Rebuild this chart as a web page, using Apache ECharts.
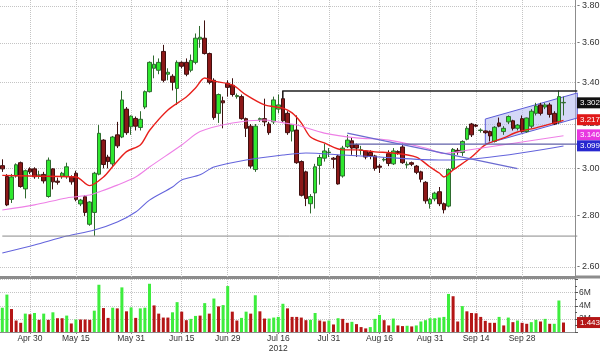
<!DOCTYPE html>
<html>
<head>
<meta charset="utf-8">
<script src="https://cdn.jsdelivr.net/npm/echarts@6.0.0/dist/echarts.min.js"></script>
<style>
html,body{margin:0;padding:0;background:#fff}
#main{width:600px;height:354px}
</style>
</head>
<body>
<div id="main"></div>
<script>
// trading days (two empty slots at the end, like the terminal leaves)
var dates = ['Apr 20','Apr 23','Apr 24','Apr 25','Apr 26','Apr 27','Apr 30',
'May 2','May 3','May 4','May 7','May 8','May 9','May 10','May 11','May 14','May 15','May 16','May 17','May 18','May 21','May 22','May 23','May 24','May 25','May 28','May 29','May 30','May 31',
'Jun 1','Jun 4','Jun 5','Jun 6','Jun 7','Jun 8','Jun 11','Jun 12','Jun 13','Jun 14','Jun 15','Jun 18','Jun 19','Jun 20','Jun 21','Jun 22','Jun 25','Jun 26','Jun 27','Jun 28','Jun 29',
'Jul 2','Jul 3','Jul 4','Jul 5','Jul 6','Jul 9','Jul 10','Jul 11','Jul 12','Jul 13','Jul 16','Jul 17','Jul 18','Jul 19','Jul 20','Jul 23','Jul 24','Jul 25','Jul 26','Jul 27','Jul 30','Jul 31',
'Aug 1','Aug 2','Aug 3','Aug 6','Aug 7','Aug 8','Aug 9','Aug 10','Aug 13','Aug 14','Aug 16','Aug 17','Aug 20','Aug 21','Aug 22','Aug 23','Aug 24','Aug 27','Aug 28','Aug 29','Aug 30','Aug 31',
'Sep 3','Sep 4','Sep 5','Sep 6','Sep 7','Sep 10','Sep 11','Sep 12','Sep 13','Sep 14','Sep 17','Sep 18','Sep 19','Sep 20','Sep 21','Sep 24','Sep 25','Sep 26','Sep 27','Sep 28',
'Oct 1','Oct 2','Oct 3','Oct 4','Oct 5','Oct 8','Oct 9','Oct 10','Oct 11','Oct 12','Oct 15'];

// open, close, low, high
var candles = [
[3.012,2.998,2.985,3.04],[2.965,2.845,2.84,2.975],[2.868,2.963,2.853,2.976],[2.967,3.016,2.96,3.022],[3.025,2.922,2.917,3.03],
[2.912,2.99,2.872,2.995],[2.998,2.985,2.975,3.005],[2.998,2.964,2.955,3.005],[2.97,2.972,2.955,2.99],[2.974,2.946,2.935,2.985],
[2.88,3.036,2.875,3.048],[2.998,2.942,2.91,3.0],[2.945,2.94,2.93,2.96],[2.964,2.979,2.955,2.985],[2.964,3.007,2.955,3.025],
[2.964,2.942,2.93,2.97],[2.979,2.868,2.86,2.99],[2.849,2.865,2.84,2.87],[2.879,2.814,2.80,2.885],[2.766,2.857,2.76,2.86],
[2.814,2.979,2.72,2.985],[2.975,3.157,2.97,3.195],[3.126,3.017,3.0,3.13],[3.05,3.03,3.0,3.06],[3.02,3.14,3.01,3.145],
[3.15,3.10,3.09,3.21],[3.14,3.314,3.135,3.358],[3.27,3.16,3.15,3.28],[3.187,3.237,3.15,3.24],[3.226,3.19,3.17,3.235],
[3.184,3.222,3.17,3.26],[3.28,3.354,3.27,3.36],[3.354,3.50,3.35,3.505],[3.47,3.49,3.42,3.535],[3.46,3.50,3.44,3.52],
[3.556,3.41,3.40,3.59],[3.44,3.45,3.41,3.47],[3.43,3.40,3.36,3.44],[3.37,3.50,3.29,3.51],[3.50,3.48,3.47,3.505],
[3.50,3.44,3.43,3.52],[3.46,3.51,3.45,3.54],[3.50,3.625,3.49,3.65],[3.62,3.63,3.575,3.69],[3.625,3.545,3.54,3.72],
[3.545,3.40,3.39,3.55],[3.41,3.23,3.22,3.42],[3.25,3.34,3.205,3.345],[3.31,3.30,3.18,3.33],[3.395,3.375,3.33,3.41],
[3.385,3.34,3.33,3.42],[3.33,3.335,3.32,3.345],[3.33,3.225,3.22,3.34],[3.225,3.18,3.14,3.23],[3.19,3.01,3.0,3.20],
[2.995,3.19,2.985,3.20],[3.22,3.225,3.21,3.23],[3.225,3.21,3.19,3.32],[3.20,3.16,3.15,3.21],[3.21,3.314,3.20,3.33],
[3.27,3.29,3.25,3.34],[3.32,3.215,3.21,3.357],[3.25,3.16,3.15,3.26],[3.167,3.197,3.12,3.20],[3.172,3.025,3.02,3.24],
[3.03,2.885,2.88,3.035],[2.985,2.872,2.84,2.99],[2.85,2.88,2.81,2.89],[2.895,3.007,2.83,3.02],[3.013,3.048,2.93,3.06],
[3.045,3.077,3.03,3.11],[3.07,3.072,3.05,3.09],[3.045,3.04,3.0,3.05],[3.055,2.933,2.93,3.06],[2.967,3.09,2.96,3.10],
[3.096,3.126,3.09,3.15],[3.123,3.09,3.06,3.14],[3.105,3.09,3.05,3.11],[3.08,3.082,3.06,3.10],[3.077,3.05,3.04,3.08],
[3.07,3.055,3.04,3.08],[3.055,3.0,2.99,3.06],[3.01,3.005,2.98,3.02],[3.037,3.04,3.03,3.05],[3.065,3.022,3.01,3.08],
[3.02,3.077,3.015,3.09],[3.075,3.07,3.06,3.08],[3.095,3.025,3.02,3.11],[3.015,3.018,3.0,3.03],[3.025,3.018,3.01,3.03],
[3.01,2.983,2.975,3.015],[2.985,2.953,2.94,2.99],[2.94,2.862,2.85,2.945],[2.85,2.868,2.83,2.875],[2.87,2.894,2.86,2.90],
[2.90,2.85,2.84,2.92],[2.85,2.825,2.81,2.855],[2.84,2.995,2.835,3.0],[3.0,3.084,2.99,3.09],[3.08,3.072,3.06,3.09],
[3.07,3.12,3.055,3.125],[3.13,3.18,3.125,3.19],[3.20,3.15,3.14,3.205],[3.195,3.19,3.185,3.20],[3.17,3.172,3.16,3.18],
[3.168,3.16,3.155,3.17],[3.165,3.145,3.12,3.17],[3.12,3.185,3.115,3.19],[3.205,3.19,3.185,3.23],[3.165,3.18,3.15,3.19],
[3.21,3.235,3.20,3.24],[3.215,3.18,3.17,3.22],[3.18,3.195,3.17,3.20],[3.225,3.165,3.16,3.24],[3.165,3.228,3.16,3.23],
[3.19,3.26,3.18,3.27],[3.25,3.285,3.24,3.30],[3.29,3.25,3.24,3.30],[3.28,3.29,3.27,3.30],[3.29,3.245,3.23,3.30],
[3.25,3.20,3.195,3.26],[3.21,3.33,3.20,3.36],[3.30,3.302,3.24,3.33]
];

// volume, millions
var volumes = [3.7,5.7,3.5,1.75,1.4,2.8,2.7,2.9,1.85,2.8,1.85,3.0,2.1,2.1,2.5,1.3,1.9,1.9,1.9,1.85,
3.25,7.2,3.65,2.15,3.7,3.6,6.8,3.15,3.75,2.15,3.6,3.7,7.35,4.05,2.8,2.2,2.2,3.0,4.55,3.1,
1.8,2.0,2.45,2.5,4.4,2.8,5.1,3.9,4.1,7.0,3.1,1.75,2.15,3.1,2.8,5.6,3.15,2.05,2.05,2.2,
2.3,4.3,3.6,2.3,2.3,2.2,1.8,1.85,2.9,1.75,1.6,1.75,1.15,2.1,2.0,1.4,1.55,1.2,0.75,0.55,
0.75,2.0,2.6,1.8,1.0,2.05,1.0,0.9,0.95,0.85,1.0,1.6,1.8,2.1,2.1,2.2,2.3,5.8,5.45,1.6,
3.95,3.15,2.9,2.85,2.3,1.7,1.4,1.4,2.3,1.0,2.2,1.5,1.75,1.4,1.25,1.5,1.85,1.6,2.0,1.25,
1.25,4.8,1.443];
// 1 = up day (green bar), 0 = down day (red bar)
var volUp = [1,1,0,0,0,1,0,1,0,1,0,1,0,0,1,0,1,0,0,0,
1,1,0,0,1,0,1,0,1,0,1,1,1,0,0,0,0,1,1,0,
0,1,1,0,1,0,1,0,1,1,0,0,1,1,0,1,0,0,1,1,
1,1,0,0,0,0,0,1,1,0,0,1,0,1,0,0,1,0,0,0,
1,1,1,0,0,1,0,0,1,0,1,1,1,1,1,1,1,1,0,0,
1,0,0,0,0,0,0,0,1,0,1,0,1,0,0,1,1,0,1,0,
1,1,0];

// moving averages: [day index, price]
var maRed = [[0,2.97],[6,2.967],[16,2.963],[19,2.926],[22,2.963],[24,3.008],[27,3.074],[30,3.104],[32,3.17],[36,3.266],
[40,3.328],[42,3.372],[44,3.421],[46,3.406],[50,3.387],[53,3.338],[57,3.29],[61,3.275],[63,3.252],[65,3.205],
[67,3.14],[70,3.113],[74,3.082],[77,3.082],[81,3.073],[85,3.068],[90,3.05],[93,3.006],[95,2.98],[96,2.963],
[98,2.993],[102,3.05],[105,3.104],[109,3.136],[112,3.163],[116,3.182],[120,3.205],[122,3.217]];
var maPink = [[0,2.824],[7,2.845],[14,2.874],[19,2.886],[21,2.899],[25,2.928],[29,2.963],[32,3.006],[39,3.104],[43,3.165],
[50,3.205],[57,3.219],[60,3.209],[64,3.195],[70,3.158],[77,3.136],[84,3.126],[92,3.09],[96,3.066],[101,3.08],[122,3.146]];
var maBlue = [[0,2.653],[7,2.684],[14,2.719],[20,2.743],[25,2.775],[29,2.816],[32,2.865],[37,2.92],[39,2.95],[43,2.972],
[46,3.006],[53,3.037],[61,3.059],[66,3.068],[74,3.059],[82,3.05],[95,3.037],[98,3.037],[122,3.099]];

// drawn studies: [day index, price]
var resistLine = [[61.2,3.32],[61.2,3.357],[124.5,3.357]];
var lowLine = [[-0.5,2.719],[124.5,2.719]];
var supportLine = [[75.2,3.108],[124.5,3.108]];
var downLine = [[75.2,3.158],[112.1,2.999]];
var channel = [[105.4,3.2233],[124.5,3.3477],[124.5,3.228],[105.4,3.1084]];

var priceTicks = [2.6,2.8,3.0,3.2,3.4,3.6,3.8];
var labelDates = ['Apr 30','May 15','May 31','Jun 15','Jun 29','Jul 16','Jul 31','Aug 16','Aug 31','Sep 14','Sep 28'];
var lastPrice = 3.302, lastRed = 3.2173, lastPink = 3.1465, lastBlue = 3.0994, lastVol = 1.443;

var GRID = '#c4c4c4';
var AX = '#8c8c8c';
var FONT = 'Liberation Sans, Arial, sans-serif';
var CLEAR = {color: 'rgba(0,0,0,0)', width: 1, type: 'solid'};

function tag(bg, fg, text) {
    return {show: true, position: 'end', distance: 2, backgroundColor: bg, color: fg,
        padding: [2, 2, 1, 3], fontSize: 8, fontFamily: FONT,
        formatter: function () { return text; }};
}

var vGrid = labelDates.map(function (d) { return {xAxis: d, label: {show: false}}; });
var hGrid = priceTicks.map(function (v) { return {yAxis: v}; });

var chart = echarts.init(document.getElementById('main'), null, {renderer: 'canvas'});

var option = {
    animation: false,
    backgroundColor: '#fff',
    textStyle: {fontFamily: FONT},
    grid: [
        {left: 0, top: 0, width: 575, height: 277},
        {left: 0, top: 279.5, width: 575, height: 57}
    ],
    // panel separator continues under the price scale
    graphic: [{type: 'rect', left: 575, top: 275.5, shape: {width: 25, height: 3}, style: {fill: AX}, silent: true}],
    xAxis: [
        {type: 'category', gridIndex: 0, data: dates, boundaryGap: true,
         axisLine: {show: true, lineStyle: {color: AX, width: 3}},
         axisTick: {show: false}, axisLabel: {show: false}, splitLine: {show: false}},
        {type: 'category', gridIndex: 1, data: dates, boundaryGap: true,
         axisLine: {show: true, lineStyle: {color: AX}},
         axisTick: {show: true, alignWithLabel: true, length: 2, lineStyle: {color: AX},
             interval: function (i, v) { return labelDates.indexOf(v) >= 0; }},
         axisLabel: {color: '#333', fontSize: 8.5, margin: 2, lineHeight: 10,
             interval: function (i, v) { return labelDates.indexOf(v) >= 0; },
             formatter: function (v) { return v === 'Jul 16' ? 'Jul 16\n2012' : v; }},
         splitLine: {show: false}}
    ],
    yAxis: [
        {type: 'log', logBase: 10, gridIndex: 0, position: 'right', min: 2.562, max: 3.832,
         axisLine: {show: true, lineStyle: {color: AX}},
         axisTick: {show: false}, axisLabel: {show: false}, splitLine: {show: false}},
        {type: 'value', gridIndex: 1, position: 'right', min: 0, max: 8, interval: 2,
         axisLine: {show: true, lineStyle: {color: AX}},
         axisTick: {show: true, length: 3, lineStyle: {color: '#555'}},
         minorTick: {show: true, splitNumber: 2, length: 2, lineStyle: {color: '#555'}},
         axisLabel: {color: '#333', fontSize: 8.5, margin: 4,
             formatter: function (v) { return (v === 0 || v === 8) ? '' : v + 'M'; }},
         splitLine: {show: true, lineStyle: {color: GRID, type: 'dotted'}}}
    ],
    series: [
        {
            type: 'custom', name: 'channel', xAxisIndex: 0, yAxisIndex: 0, z: 2,
            data: [[0, 3]], silent: true,
            renderItem: function (params, api) {
                return {type: 'polygon',
                    shape: {points: channel.map(function (p) { return api.coord(p); })},
                    style: {fill: 'rgba(176,184,240,0.55)', stroke: '#5c5cd8', lineWidth: 1}};
            }
        },
        {
            type: 'candlestick', name: 'price', xAxisIndex: 0, yAxisIndex: 0, z: 3,
            data: candles.map(function (c) { return [c[0], c[1], c[2], c[3]]; }),
            barWidth: 4,
            itemStyle: {color: '#2ee82e', color0: '#8c1818', borderColor: '#2f6b2f', borderColor0: '#3f1010', borderWidth: 1},
            markLine: {
                silent: true, symbol: 'none', z: 1, animation: false,
                lineStyle: {color: GRID, type: 'dotted', width: 1},
                label: {show: true, position: 'end', distance: 2, fontFamily: FONT,
                    formatter: function (p) { return '{t|-}{v|' + Number(p.value).toFixed(2) + '}'; },
                    rich: {t: {color: '#444', fontSize: 9, padding: [0, 2, 0, 0]},
                           v: {color: '#333', fontSize: 9}}},
                data: hGrid.concat(vGrid)
            }
        },
        {
            type: 'line', name: 'ma red', xAxisIndex: 0, yAxisIndex: 0, z: 4, data: maRed,
            symbol: 'none', smooth: 0.3, lineStyle: {color: '#e8201c', width: 1.4}
        },
        {
            type: 'line', name: 'ma pink', xAxisIndex: 0, yAxisIndex: 0, z: 4, data: maPink,
            symbol: 'none', smooth: 0.3, lineStyle: {color: '#ee80e6', width: 1.1}
        },
        {
            type: 'line', name: 'ma blue', xAxisIndex: 0, yAxisIndex: 0, z: 4, data: maBlue,
            symbol: 'none', smooth: 0.3, lineStyle: {color: '#6464dc', width: 1.1}
        },
        {
            type: 'custom', name: 'studies', xAxisIndex: 0, yAxisIndex: 0, z: 5,
            data: [[0, 3]], silent: true,
            renderItem: function (params, api) {
                function pl(pts, color, w) {
                    return {type: 'polyline', shape: {points: pts.map(function (p) { return api.coord(p); })},
                        style: {stroke: color, lineWidth: w, fill: null}};
                }
                return {type: 'group', children: [
                    pl(lowLine, '#8a8a8a', 1),
                    pl(supportLine, '#6060a8', 1.3),
                    pl(downLine, '#6a6ad0', 1.2),
                    pl(resistLine, '#202020', 1.4)
                ]};
            },
            markLine: {
                silent: true, symbol: 'none', z: 8, animation: false,
                lineStyle: CLEAR,
                data: [
                    {yAxis: lastPrice, label: tag('#111', '#fff', '3.302')},
                    {yAxis: lastRed, label: tag('#e01818', '#fff', '3.2173')},
                    {yAxis: lastPink, label: tag('#e838e0', '#fff', '3.1465')},
                    {yAxis: lastBlue, label: tag('#2828d0', '#fff', '3.0994')}
                ]
            }
        },
        {
            type: 'bar', name: 'volume', xAxisIndex: 1, yAxisIndex: 1, z: 2,
            barWidth: 3,
            data: volumes.map(function (v, i) {
                return {value: v, itemStyle: {color: volUp[i] ? '#3ded3d' : '#b41616'}};
            }),
            markLine: {
                silent: true, symbol: 'none', z: 1, animation: false,
                lineStyle: {color: GRID, type: 'dotted', width: 1},
                data: vGrid
            }
        },
        {
            type: 'line', name: 'volume tag', xAxisIndex: 1, yAxisIndex: 1, data: [], z: 8,
            markLine: {
                silent: true, symbol: 'none', z: 8, animation: false,
                lineStyle: CLEAR,
                data: [{yAxis: lastVol, label: tag('#b41616', '#fff', lastVol + 'M')}]
            }
        }
    ]
};
chart.setOption(option);
</script>
</body>
</html>
